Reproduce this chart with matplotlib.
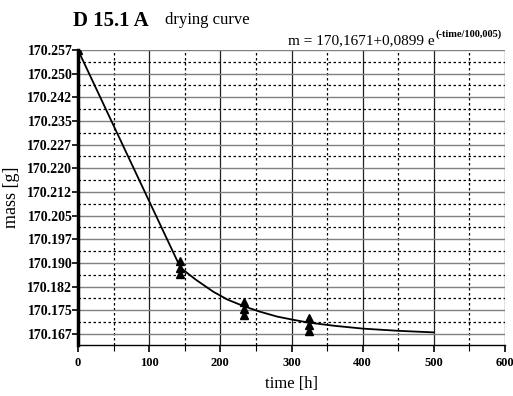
import matplotlib
matplotlib.use("Agg")
import matplotlib.pyplot as plt
from matplotlib.ticker import FixedLocator

# data
pt_time = [0, 144, 144, 144, 233, 233, 233, 324, 324, 324]
pt_mass = [170.257, 170.186, 170.188, 170.190, 170.173, 170.175, 170.177,
           170.168, 170.170, 170.172]
fit_time = [0, 144, 165, 190, 210, 233, 255, 280, 300, 324, 360, 400, 450, 500]
fit_mass = [170.257, 170.188, 170.1843, 170.1804, 170.1779, 170.1758,
            170.1741, 170.1725, 170.1716, 170.1706, 170.1696, 170.1687,
            170.1680, 170.1675]
y_ticks = [170.167 + 0.0075 * k for k in range(13)]
y_labels = ["170.167", "170.175", "170.182", "170.190", "170.197", "170.205",
            "170.212", "170.220", "170.227", "170.235", "170.242", "170.250",
            "170.257"]
x_ticks = [0, 100, 200, 300, 400, 500, 600]

serif = ["Liberation Serif", "DejaVu Serif"]
plt.rcParams["font.family"] = serif

fig = plt.figure(figsize=(5.13, 3.96), dpi=100)
ax = fig.add_axes([78/513, 1 - 345/396, (505-78)/513, (345-50)/396])

ax.set_xlim(0, 600)
ax.set_ylim(170.167 - 0.0075 * 11/23.6, 170.257)

# grid
for x in x_ticks[1:]:
    ax.axvline(x, color="#222222", lw=0.9, zorder=1)
for x in range(50, 600, 100):
    ax.axvline(x, color="black", lw=0.9, ls=(0, (2, 2)), zorder=1)
for y in y_ticks:
    ax.axhline(y, color="#808080", lw=1.0, zorder=1)
for y in y_ticks[:-1]:
    ax.axhline(y + 0.00375, color="black", lw=0.9, ls=(0, (2, 2)), zorder=1)
ax.axhline(y_ticks[0] - 0.00375, color="black", lw=1.0, zorder=1)

ax.plot(fit_time, fit_mass, color="black", lw=1.3, zorder=3)
ax.plot(pt_time, pt_mass, ls="none", marker="^", ms=6, color="black", zorder=4)

for s in ["top", "right"]:
    ax.spines[s].set_visible(False)
ax.spines["left"].set_linewidth(2.5)
ax.spines["bottom"].set_linewidth(1.0)

ax.yaxis.set_major_locator(FixedLocator(y_ticks))
ax.set_yticklabels(y_labels, fontsize=10, fontweight="bold", family=serif)
ax.xaxis.set_major_locator(FixedLocator(x_ticks))
ax.set_xticklabels([str(x) for x in x_ticks], fontsize=9, fontweight="bold", family=serif)
ax.xaxis.set_minor_locator(FixedLocator(list(range(50, 600, 100))))
ax.tick_params(axis="y", length=4, width=1.2, pad=0)
ax.tick_params(axis="x", length=5, width=1.2, pad=4)
ax.tick_params(axis="x", which="minor", length=4, width=0.8)

ax.set_xlabel("time [h]", fontsize=12, family=serif, labelpad=5)
ax.set_ylabel("mass [g]", fontsize=13, family=serif, labelpad=5)

fig.text(73/513, 1 - 21/396, "D 15.1 A", fontsize=15, fontweight="bold",
         family=serif, va="center", ha="left")
fig.text(165/513, 1 - 20/396, "drying curve", fontsize=12, family=serif,
         va="center", ha="left")
fig.text(435/513, 1 - 41/396, "m = 170,1671+0,0899 e", fontsize=11,
         family=serif, va="center", ha="right")
fig.text(436/513, 1 - 34/396, "(-time/100,005)", fontsize=7.5, fontweight="bold",
         family=serif, va="center", ha="left")

fig.savefig("out.png", dpi=100)
